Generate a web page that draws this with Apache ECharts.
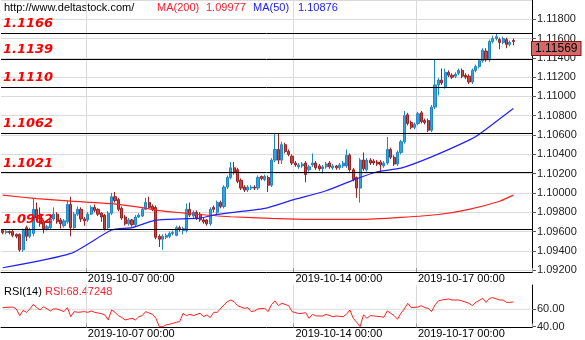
<!DOCTYPE html>
<html>
<head>
<meta charset="utf-8">
<script src="https://cdn.jsdelivr.net/npm/echarts@6/dist/echarts.min.js"></script>
<style>
html, body { margin: 0; padding: 0; background: #fff; }
#chart { width: 585px; height: 340px; }
</style>
</head>
<body>
<div id="chart"></div>
<script>
// EUR/USD, 2-hour candles: [open, close, low, high]
const bars = [
  [1.0961,1.0959,1.0957,1.0962],[1.0959,1.0960,1.0957,1.0962],[1.0960,1.0959,1.0957,1.0961],[1.0960,1.0956,1.0954,1.0962],
  [1.0957,1.0955,1.0953,1.0958],[1.0957,1.0941,1.0939,1.0958],[1.0941,1.0961,1.0939,1.0963],[1.0964,1.0955,1.0950,1.0966],
  [1.0955,1.0962,1.0953,1.0964],[1.0958,1.0983,1.0955,1.0995],[1.0983,1.0974,1.0971,1.0990],[1.0978,1.0968,1.0965,1.0985],
  [1.0970,1.0963,1.0958,1.0972],[1.0963,1.0965,1.0961,1.0967],[1.0964,1.0973,1.0962,1.0975],[1.0973,1.0978,1.0971,1.0985],
  [1.0978,1.0970,1.0968,1.0980],[1.0972,1.0968,1.0963,1.0974],[1.0966,1.0971,1.0964,1.0973],[1.0970,1.0988,1.0968,1.0992],
  [1.0988,1.0964,1.0955,1.0996],[1.0964,1.0978,1.0962,1.0980],[1.0978,1.0983,1.0976,1.0986],[1.0983,1.0973,1.0970,1.0985],
  [1.0973,1.0971,1.0966,1.0975],[1.0972,1.0978,1.0970,1.0980],[1.0978,1.0985,1.0977,1.0987],[1.0985,1.0982,1.0980,1.0988],
  [1.0983,1.0978,1.0976,1.0984],[1.0979,1.0975,1.0970,1.0980],[1.0977,1.0963,1.0961,1.0978],[1.0964,1.0979,1.0962,1.0981],
  [1.0979,1.0996,1.0977,1.1000],[1.0996,1.0992,1.0990,1.1001],[1.0993,1.0983,1.0981,1.0995],[1.0984,1.0974,1.0972,1.0986],
  [1.0975,1.0968,1.0966,1.0977],[1.0968,1.0972,1.0966,1.0974],[1.0972,1.0967,1.0965,1.0973],[1.0967,1.0975,1.0965,1.0977],
  [1.0975,1.0977,1.0974,1.0979],[1.0976,1.0983,1.0975,1.0985],[1.0983,1.0990,1.0982,1.0995],[1.0990,1.0985,1.0984,1.0996],
  [1.0986,1.0983,1.0981,1.0988],[1.0985,1.0954,1.0952,1.0987],[1.0955,1.0952,1.0944,1.0957],[1.0952,1.0955,1.0941,1.0957],
  [1.0954,1.0956,1.0952,1.0958],[1.0955,1.0958,1.0953,1.0960],[1.0958,1.0959,1.0956,1.0961],[1.0956,1.0964,1.0955,1.0966],
  [1.0964,1.0962,1.0960,1.0966],[1.0961,1.0963,1.0957,1.0965],[1.0961,1.0983,1.0959,1.0989],[1.0983,1.0977,1.0975,1.0990],
  [1.0976,1.0980,1.0974,1.0982],[1.0980,1.0974,1.0972,1.0982],[1.0978,1.0972,1.0970,1.0980],[1.0972,1.0970,1.0968,1.0974],
  [1.0972,1.0968,1.0966,1.0973],[1.0968,1.0983,1.0966,1.0985],[1.0985,1.0983,1.0980,1.0987],[1.0980,1.0990,1.0978,1.0992],
  [1.0990,1.0986,1.0984,1.0992],[1.0986,1.1006,1.0984,1.1008],[1.1006,1.1016,1.1004,1.1018],[1.1016,1.1026,1.1014,1.1032],
  [1.1026,1.1021,1.1019,1.1032],[1.1024,1.1012,1.1010,1.1026],[1.1013,1.1005,1.1003,1.1015],[1.1006,1.1003,1.1001,1.1008],
  [1.1003,1.1006,1.1001,1.1008],[1.1005,1.1006,1.1003,1.1008],[1.1006,1.1005,1.1003,1.1008],[1.1005,1.1016,1.1003,1.1018],
  [1.1017,1.1015,1.1013,1.1018],[1.1014,1.1017,1.1012,1.1019],[1.1016,1.1008,1.1001,1.1018],[1.1008,1.1034,1.1006,1.1036],
  [1.1034,1.1045,1.1032,1.1061],[1.1045,1.1034,1.1030,1.1061],[1.1034,1.1050,1.1030,1.1053],[1.1050,1.1043,1.1041,1.1052],
  [1.1043,1.1040,1.1038,1.1045],[1.1038,1.1031,1.1029,1.1040],[1.1031,1.1029,1.1027,1.1033],[1.1027,1.1029,1.1025,1.1031],
  [1.1028,1.1030,1.1026,1.1032],[1.1031,1.1019,1.1011,1.1033],[1.1024,1.1027,1.1022,1.1029],[1.1029,1.1031,1.1027,1.1041],
  [1.1031,1.1026,1.1024,1.1033],[1.1028,1.1025,1.1023,1.1030],[1.1025,1.1027,1.1020,1.1029],[1.1027,1.1030,1.1025,1.1032],
  [1.1031,1.1027,1.1025,1.1033],[1.1026,1.1028,1.1024,1.1030],[1.1028,1.1026,1.1024,1.1029],[1.1026,1.1029,1.1024,1.1031],
  [1.1028,1.1031,1.1026,1.1033],[1.1028,1.1039,1.1026,1.1045],[1.1039,1.1024,1.1022,1.1041],[1.1024,1.1014,1.1012,1.1026],
  [1.1016,1.1005,1.0995,1.1017],[1.1005,1.1034,1.0990,1.1036],[1.1034,1.1025,1.1023,1.1042],[1.1024,1.1034,1.1022,1.1036],
  [1.1034,1.1031,1.1029,1.1036],[1.1033,1.1031,1.1029,1.1035],[1.1032,1.1030,1.1028,1.1034],[1.1032,1.1029,1.1021,1.1034],
  [1.1028,1.1031,1.1026,1.1033],[1.1031,1.1045,1.1029,1.1058],[1.1045,1.1037,1.1035,1.1047],[1.1037,1.1030,1.1028,1.1039],
  [1.1030,1.1042,1.1028,1.1044],[1.1042,1.1053,1.1040,1.1055],[1.1053,1.1080,1.1051,1.1085],[1.1081,1.1072,1.1070,1.1083],
  [1.1073,1.1068,1.1066,1.1075],[1.1068,1.1071,1.1066,1.1073],[1.1072,1.1082,1.1070,1.1084],[1.1083,1.1074,1.1072,1.1085],
  [1.1075,1.1073,1.1071,1.1077],[1.1075,1.1065,1.1063,1.1077],[1.1065,1.1089,1.1063,1.1091],[1.1089,1.1112,1.1087,1.1138],
  [1.1112,1.1117,1.1101,1.1119],[1.1117,1.1114,1.1112,1.1129],[1.1110,1.1125,1.1108,1.1129],[1.1125,1.1122,1.1120,1.1127],
  [1.1122,1.1120,1.1118,1.1124],[1.1121,1.1123,1.1119,1.1125],[1.1124,1.1127,1.1122,1.1129],[1.1127,1.1121,1.1119,1.1129],
  [1.1122,1.1120,1.1118,1.1124],[1.1121,1.1115,1.1113,1.1123],[1.1115,1.1127,1.1113,1.1129],[1.1127,1.1131,1.1125,1.1133],
  [1.1131,1.1137,1.1129,1.1139],[1.1137,1.1148,1.1135,1.1150],[1.1147,1.1138,1.1136,1.1150],[1.1138,1.1157,1.1136,1.1159],
  [1.1157,1.1160,1.1155,1.1163],[1.1160,1.1162,1.1158,1.1165],[1.1159,1.1156,1.1149,1.1161],[1.1156,1.1160,1.1154,1.1162],
  [1.1159,1.1154,1.1150,1.1161],[1.1154,1.1156,1.1152,1.1158],[1.1158,1.11569,1.1153,1.1160]
];

// Moving averages, [candle index, value]
const ma200 = [
  [0,1.09977],[10,1.09941],[20,1.09914],[32,1.09889],[40,1.09852],[46,1.09817],[52,1.09795],[57,1.09779],
  [67,1.09753],[79,1.09736],[93,1.09725],[105,1.09725],[117,1.09746],[128,1.09776],[137,1.09830],[146,1.09914],[150,1.09977]
];
const ma50 = [
  [0,1.09224],[20,1.09373],[32,1.09615],[38,1.09640],[45,1.09718],[58,1.09739],[63,1.09777],[77,1.09839],
  [85,1.09925],[95,1.10022],[103,1.10133],[110,1.10219],[117,1.10257],[126,1.10374],[137,1.10547],[140,1.10609],[150,1.10876]
];

// RSI(14), [candle index, value]
const rsi = [
  [0,61.9],[3,62.6],[4,60.4],[5,52.7],[6,58.8],[7,56.5],[8,60.4],[9,65.7],[10,61.9],[11,59.2],[12,63.0],[14,58.1],
  [15,60.4],[16,60.4],[18,57.3],[19,61.9],[20,51.5],[21,57.3],[22,56.5],[24,57.3],[25,56.5],[26,58.1],[27,56.5],
  [29,55.0],[30,53.5],[31,47.7],[32,59.2],[33,56.5],[34,52.7],[35,50.5],[36,47.7],[38,49.6],[39,47.7],[40,51.5],
  [41,52.7],[42,57.3],[44,54.2],[45,49.6],[46,40.0],[47,40.0],[48,42.0],[49,42.7],[51,45.0],[52,45.8],[53,55.4],
  [54,52.7],[55,54.2],[56,52.7],[58,55.4],[59,51.5],[60,53.5],[61,50.5],[62,56.5],[63,56.5],[65,65.0],[66,68.8],
  [67,70.7],[68,68.8],[69,64.2],[71,61.1],[72,61.9],[73,57.3],[74,58.1],[75,60.4],[77,61.1],[78,57.3],[79,65.7],
  [80,69.6],[81,64.2],[82,66.9],[84,64.2],[85,57.3],[87,55.0],[88,55.4],[89,56.1],[90,49.6],[91,54.2],[92,52.3],
  [94,52.3],[95,54.2],[97,51.5],[98,52.3],[100,51.5],[101,54.2],[102,59.2],[103,49.6],[104,45.0],[105,40.0],
  [106,53.5],[107,49.6],[108,52.7],[109,52.3],[111,51.5],[112,50.8],[113,58.1],[115,52.7],[116,48.5],[117,55.4],
  [118,60.4],[119,66.9],[120,61.9],[122,62.6],[123,64.2],[124,61.9],[125,61.1],[126,57.3],[127,65.0],[128,69.6],
  [129,70.7],[131,71.9],[132,70.7],[134,70.7],[135,69.6],[137,66.9],[138,64.2],[139,68.0],[141,72.6],[142,68.0],
  [143,72.6],[144,73.4],[146,70.7],[147,70.7],[148,68.0],[149,68.0],[150,68.47248]
];

// Support / resistance levels
const levels = [1.1166, 1.1139, 1.1110, 1.1062, 1.1021, 1.0962];

// Axis ticks
const priceRange = [1.0918, 1.1200];
const priceStep = 0.002;
const priceTicks = [1.092,1.094,1.096,1.098,1.100,1.102,1.104,1.106,1.108,1.110,1.112,1.114,1.116,1.118];
const rsiRange = [39, 88];
const rsiTicks = [40, 60];
const rsiGuide = 60;
const dateTickIndex = [25, 86, 122];
const dateTickLabel = ['2019-10-07 00:00', '2019-10-14 00:00', '2019-10-17 00:00'];
const slotCount = 156;

const lastPrice = bars[bars.length - 1][1];
const lastMa200 = ma200[ma200.length - 1][1];
const lastMa50 = ma50[ma50.length - 1][1];
const lastRsi = rsi[rsi.length - 1][1];

const categories = Array.from({ length: slotCount }, (_, i) => String(i));
const isDateTick = (i) => dateTickIndex.indexOf(i) >= 0;
const FONT = 'Liberation Sans, Arial, sans-serif';
const GRID_GRAY = '#dadada';

function xAxisFor(gridIndex) {
  return {
    type: 'category', gridIndex, data: categories, boundaryGap: true,
    axisLine: { show: true, lineStyle: { color: '#000', width: 1 } },
    axisTick: { show: true, inside: true, length: 4, interval: isDateTick, lineStyle: { color: '#999' } },
    axisLabel: {
      interval: isDateTick, align: 'left', margin: 1, fontSize: 11, color: '#000', fontFamily: FONT,
      formatter: (v, i) => dateTickLabel[dateTickIndex.indexOf(i)] || ''
    },
    splitLine: { show: true, interval: isDateTick, lineStyle: { color: GRID_GRAY, width: 1 } }
  };
}

const chart = echarts.init(document.getElementById('chart'), null, { renderer: 'canvas' });
chart.setOption({
  animation: false,
  backgroundColor: '#fff',
  grid: [
    { left: 1, right: 53, top: 0, height: 272, containLabel: false, outerBoundsMode: 'none' },
    { left: 1, right: 53, top: 285, height: 42.5, containLabel: false, outerBoundsMode: 'none' }
  ],
  xAxis: [xAxisFor(0), xAxisFor(1)],
  yAxis: [
    {
      // price scale with its labels and ticks
      type: 'value', gridIndex: 0, position: 'right', min: priceRange[0], max: priceRange[1],
      axisLine: { show: true, lineStyle: { color: '#000' } },
      axisTick: { show: true, length: 4, customValues: priceTicks, lineStyle: { color: '#555' } },
      axisLabel: { customValues: priceTicks, margin: 5, fontSize: 11, color: '#222', fontFamily: FONT,
        formatter: (v) => v.toFixed(5) },
      splitLine: { show: false }
    },
    {
      type: 'value', gridIndex: 1, position: 'right', min: rsiRange[0], max: rsiRange[1],
      axisLine: { show: true, lineStyle: { color: '#000' } },
      axisTick: { show: true, length: 4, customValues: rsiTicks, lineStyle: { color: '#555' } },
      axisLabel: { customValues: rsiTicks, margin: 5, fontSize: 11, color: '#222', fontFamily: FONT,
        formatter: (v) => v.toFixed(2) },
      splitLine: { show: false }
    },
    {
      // quiet companion scale over the same range, only for the horizontal grid rules
      type: 'value', gridIndex: 0, position: 'left', min: priceRange[0], max: priceRange[1],
      minInterval: priceStep, maxInterval: priceStep,
      axisLine: { show: false }, axisTick: { show: false }, axisLabel: { show: false },
      splitLine: { show: true, lineStyle: { color: GRID_GRAY, width: 1 } }
    }
  ],
  graphic: [
    { type: 'text', left: 4, top: 2, style: { text: 'http://www.deltastock.com/', fill: '#000', font: '11px ' + FONT } },
    { type: 'text', left: 157, top: 2, style: { text: 'MA(200)', fill: '#ff2030', font: '11px ' + FONT } },
    { type: 'text', left: 206, top: 2, style: { text: lastMa200.toFixed(5), fill: '#ff2030', font: '11px ' + FONT } },
    { type: 'text', left: 253, top: 2, style: { text: 'MA(50)', fill: '#2020ff', font: '11px ' + FONT } },
    { type: 'text', left: 298, top: 2, style: { text: lastMa50.toFixed(5), fill: '#2020ff', font: '11px ' + FONT } },
    { type: 'text', left: 4, top: 286, style: { text: 'RSI(14)', fill: '#000', font: '11px ' + FONT } },
    { type: 'text', left: 45, top: 286, style: { text: 'RSI:' + lastRsi.toFixed(5), fill: '#ff2030', font: '11px ' + FONT } }
  ],
  series: [
    {
      name: 'EURUSD', type: 'candlestick', xAxisIndex: 0, yAxisIndex: 0, data: bars, barWidth: 2.6, z: 2,
      itemStyle: { color: '#34a2e0', color0: '#c84444', borderColor: '#1f86c8', borderColor0: '#9c2222', borderWidth: 1 },
      emphasis: { disabled: true }
    },
    {
      name: 'MA(200)', type: 'line', xAxisIndex: 0, yAxisIndex: 0, data: ma200, smooth: 0.2, symbol: 'none',
      lineStyle: { color: '#ff2020', width: 1.2 }, z: 3
    },
    {
      name: 'MA(50)', type: 'line', xAxisIndex: 0, yAxisIndex: 0, data: ma50, smooth: 0.2, symbol: 'none',
      lineStyle: { color: '#2020ff', width: 1.2 }, z: 3
    },
    {
      name: 'levels', type: 'line', xAxisIndex: 0, yAxisIndex: 0, data: [], z: 4,
      markLine: {
        symbol: 'none', silent: true, animation: false, precision: 5,
        lineStyle: { color: '#000', width: 1, type: 'solid' },
        label: {
          show: true, position: 'insideStartTop', distance: [2, 3],
          formatter: (p) => p.value.toFixed(4),
          color: '#ff0000', fontStyle: 'italic', fontWeight: 'bold', fontSize: 13, fontFamily: 'DejaVu Sans'
        },
        emphasis: { disabled: true },
        data: levels.map((v) => ({ yAxis: v }))
      }
    },
    {
      name: 'last', type: 'line', xAxisIndex: 0, yAxisIndex: 0, data: [], z: 6,
      markLine: {
        symbol: 'none', silent: true, animation: false, precision: 5,
        lineStyle: { color: 'rgba(0,0,0,0)', width: 1 },
        label: {
          show: true, position: 'end', distance: 0, offset: [0, 7],
          formatter: () => lastPrice.toFixed(5),
          color: '#000', fontSize: 12, fontFamily: FONT, opacity: 1,
          backgroundColor: '#d26a6a', borderColor: '#8b1010', borderWidth: 1, padding: [1, 3, 0, 3]
        },
        emphasis: { disabled: true },
        data: [{ yAxis: lastPrice }]
      }
    },
    {
      // the 60 guide across the RSI panel
      name: 'RSI guide', type: 'line', xAxisIndex: 1, yAxisIndex: 1, symbol: 'none', z: 1, silent: true,
      data: [[0, rsiGuide], [slotCount - 1, rsiGuide]],
      lineStyle: { color: GRID_GRAY, width: 1 }
    },
    {
      name: 'RSI(14)', type: 'line', xAxisIndex: 1, yAxisIndex: 1, data: rsi, symbol: 'none', z: 2,
      lineStyle: { color: '#ff2020', width: 1 }
    }
  ]
});
</script>
</body>
</html>
